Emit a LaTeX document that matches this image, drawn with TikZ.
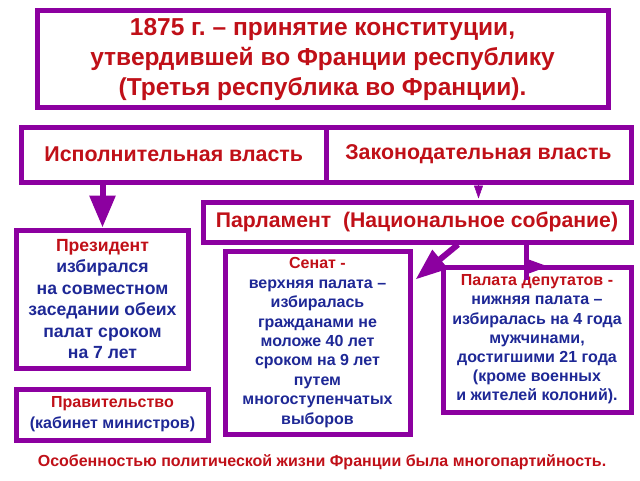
\documentclass[tikz,border=0pt]{standalone}
\usepackage{fontspec}
\setmainfont{Liberation Sans}
\usetikzlibrary{arrows.meta,calc}
\definecolor{pur}{RGB}{140,0,160}
\definecolor{tred}{RGB}{192,16,24}
\definecolor{tblue}{RGB}{30,40,150}
\frenchspacing
\begin{document}
\begin{tikzpicture}[x=1pt,y=-1pt,
  box/.style={draw=pur,line width=5pt,fill=white,inner sep=0pt,align=center},
  fatarrow/.style={draw=pur,line width=6pt},
  redtxt/.style={text=tred},
  bluetxt/.style={text=tblue}]
\useasboundingbox (0,0) rectangle (640,480);
\fill[white] (0,0) rectangle (640,480);

\node[box,redtxt,minimum width=571pt,minimum height=97pt,
  font=\bfseries\fontsize{24.5}{30}\selectfont] (title) at (322.5,59)
  {1875 г. – принятие конституции,\\утвердившей во Франции республику\\(Третья республика во Франции).};

\node[box,redtxt,minimum width=304.5pt,minimum height=55pt,
  font=\bfseries\fontsize{21.4}{24}\selectfont] (exec) at (173.75,154.5) {Исполнительная власть};
\node[box,redtxt,minimum width=305pt,minimum height=55pt,
  font=\bfseries\fontsize{21.4}{24}\selectfont] (leg) at (478.5,154.5) {Законодательная власть};

\node[box,redtxt,minimum width=428pt,minimum height=40pt,
  font=\bfseries\fontsize{21.2}{24}\selectfont] (parl) at (417,222) {Парламент~ (Национальное собрание)};

\node[box,bluetxt,minimum width=172pt,minimum height=138pt,
  font=\bfseries\fontsize{17.6}{21.5}\selectfont] (pres) at (102.5,299)
  {\textcolor{tred}{Президент}\\избирался\\на совместном\\заседании обеих\\палат сроком\\на 7 лет};

\node[box,bluetxt,minimum width=192pt,minimum height=51pt,
  font=\bfseries\fontsize{16}{21}\selectfont] (gov) at (112.5,414.5)
  {\textcolor{tred}{Правительство}\\(кабинет министров)};

\node[box,bluetxt,minimum width=185pt,minimum height=183pt,
  font=\bfseries\fontsize{16}{19.4}\selectfont] (sen) at (317.5,342.5)
  {\textcolor{tred}{Сенат -}\\верхняя палата –\\избиралась\\гражданами не\\моложе 40 лет\\сроком на 9 лет\\путем\\многоступенчатых\\выборов};

\node[box,bluetxt,minimum width=188pt,minimum height=145pt,
  font=\bfseries\fontsize{16}{19.2}\selectfont] (dep) at (537,339.5)
  {\textcolor{tred}{Палата депутатов -}\\нижняя палата –\\избиралась на 4 года\\мужчинами,\\достигшими 21 года\\(кроме военных\\и жителей колоний).};

\node[redtxt,inner sep=0pt,font=\bfseries\fontsize{16}{19}\selectfont] (note) at (322,462)
  {Особенностью политической жизни Франции была многопартийность.};

% connectors
\draw[fatarrow,-{Triangle[length=32pt,width=25pt]}] (exec.south -| pres.north) -- (pres.north);
\draw[draw=pur,fill=pur,line width=0.5pt,-{Triangle[length=13pt,width=9pt]}] (leg.south) -- ++(0,14);
\coordinate (sa) at ($(parl.south)+(41,0)$);
\coordinate (st) at ($(sen.north east)+(3,31)$);
\draw[fatarrow,-{Triangle[length=32pt,width=23pt]}] (sa) -- (st);
\coordinate (ra) at ($(parl.south)+(109,0)$);
\draw[draw=pur,line width=5pt] (ra) -- ++(0,35);
\fill[pur] ($(ra)+(0,14)$) -- ++(22,8) -- ++(-22,8) -- cycle;
\end{tikzpicture}
\end{document}
